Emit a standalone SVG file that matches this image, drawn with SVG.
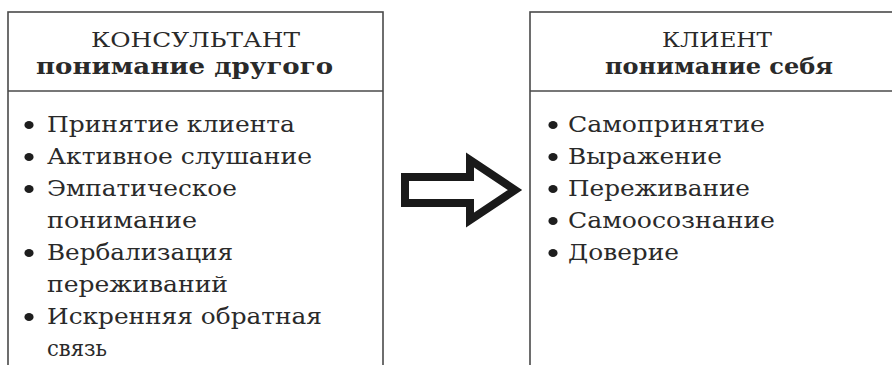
<svg xmlns="http://www.w3.org/2000/svg" width="892" height="365" viewBox="0 0 892 365">
<style>
.box{fill:#fff;stroke:#4a4a4a;stroke-width:1.6}
.div{stroke:#4a4a4a;stroke-width:1.6}
.t{font-family:"DejaVu Serif","Liberation Serif",serif;font-size:22px;fill:#2a2a2a}
.h{font-family:"DejaVu Serif","Liberation Serif",serif;font-size:21px;fill:#2a2a2a}
.hb{font-family:"DejaVu Serif","Liberation Serif",serif;font-size:22px;font-weight:bold;fill:#2a2a2a}
.b{fill:#1e1e1e}
</style>
<rect width="892" height="365" fill="#fff"/>
<g id="consultant">
<rect class="box" x="8" y="12" width="375" height="370"/>
<line class="div" x1="8" y1="91" x2="383" y2="91"/>
<text class="h" x="91" y="47" textLength="209" lengthAdjust="spacingAndGlyphs">КОНСУЛЬТАНТ</text>
<text class="hb" x="36" y="74" textLength="297" lengthAdjust="spacingAndGlyphs">понимание другого</text>
<ellipse class="b" cx="29" cy="125" rx="4.6" ry="4"/>
<text class="t" x="47" y="132" textLength="248" lengthAdjust="spacingAndGlyphs">Принятие клиента</text>
<ellipse class="b" cx="29" cy="157" rx="4.6" ry="4"/>
<text class="t" x="47" y="164" textLength="265" lengthAdjust="spacingAndGlyphs">Активное слушание</text>
<ellipse class="b" cx="29" cy="189" rx="4.6" ry="4"/>
<text class="t" x="47" y="196" textLength="190" lengthAdjust="spacingAndGlyphs">Эмпатическое</text>
<text class="t" x="47" y="228" textLength="150" lengthAdjust="spacingAndGlyphs">понимание</text>
<ellipse class="b" cx="29" cy="253" rx="4.6" ry="4"/>
<text class="t" x="47" y="260" textLength="186" lengthAdjust="spacingAndGlyphs">Вербализация</text>
<text class="t" x="47" y="292" textLength="181" lengthAdjust="spacingAndGlyphs">переживаний</text>
<ellipse class="b" cx="29" cy="317" rx="4.6" ry="4"/>
<text class="t" x="47" y="324" textLength="275" lengthAdjust="spacingAndGlyphs">Искренняя обратная</text>
<text class="t" x="47" y="356" textLength="60" lengthAdjust="spacingAndGlyphs">связь</text>
</g>
<g id="client">
<rect class="box" x="530" y="12" width="380" height="370"/>
<line class="div" x1="530" y1="91" x2="892" y2="91"/>
<text class="h" x="662" y="47" textLength="110" lengthAdjust="spacingAndGlyphs">КЛИЕНТ</text>
<text class="hb" x="605" y="74" textLength="228" lengthAdjust="spacingAndGlyphs">понимание себя</text>
<ellipse class="b" cx="553" cy="125" rx="4.6" ry="4"/>
<text class="t" x="568" y="132" textLength="197" lengthAdjust="spacingAndGlyphs">Самопринятие</text>
<ellipse class="b" cx="553" cy="157" rx="4.6" ry="4"/>
<text class="t" x="568" y="164" textLength="154" lengthAdjust="spacingAndGlyphs">Выражение</text>
<ellipse class="b" cx="553" cy="189" rx="4.6" ry="4"/>
<text class="t" x="568" y="196" textLength="182" lengthAdjust="spacingAndGlyphs">Переживание</text>
<ellipse class="b" cx="553" cy="221" rx="4.6" ry="4"/>
<text class="t" x="568" y="228" textLength="207" lengthAdjust="spacingAndGlyphs">Самоосознание</text>
<ellipse class="b" cx="553" cy="253" rx="4.6" ry="4"/>
<text class="t" x="568" y="260" textLength="111" lengthAdjust="spacingAndGlyphs">Доверие</text>
</g>
<g id="connectors">
<path d="M405,177 H470 V160 L515,190 L470,220 V203 H405 Z" fill="#fff" stroke="#1a1a1a" stroke-width="8" stroke-linejoin="miter" stroke-miterlimit="10"/>
</g>
</svg>
